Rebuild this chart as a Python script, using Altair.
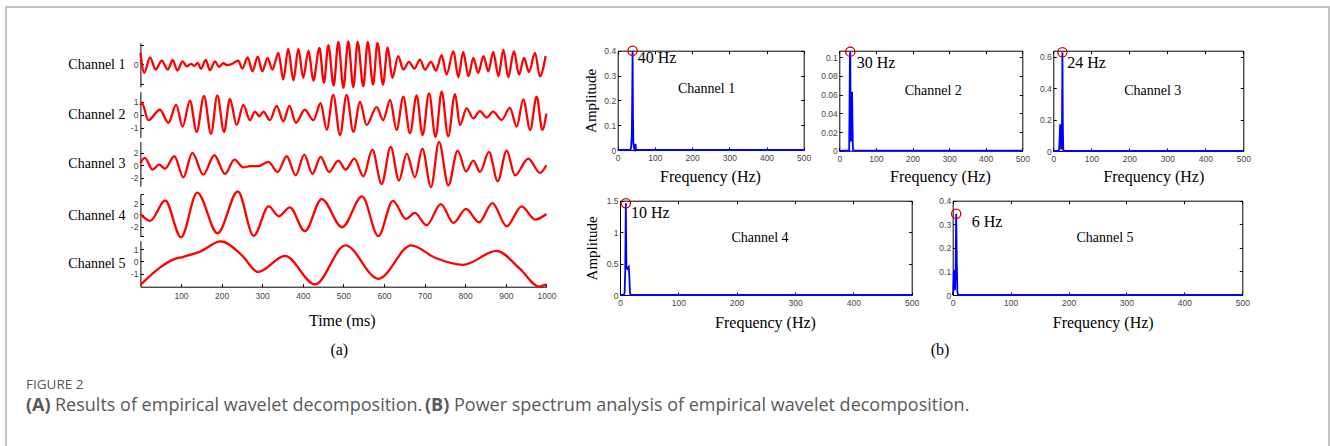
import altair as alt
import pandas as pd

W, H = 1330, 446
SERIF = "Liberation Serif"
SANS = "Liberation Sans"
CAPTION_FONT = "Open Sans"
RED = "#ff0000"
BLUE = "#0000ff"

# ---------------- (a) empirical wavelet modes: (time ms, amplitude) at the turning points
ch1 = [(0, 0.6), (9.7, -0.44), (23.6, 0.37), (37.6, -0.27), (52.4, 0.2), (67.2, -0.27), (79.5, 0.23),
       (91, -0.32), (104, 0.16), (114, -0.1), (124.6, 0.03), (132.8, -0.08), (141, 0.08), (149.3, -0.23),
       (160.8, 0.23), (171.4, -0.3), (183.7, 0.16), (193.6, -0.13), (204, 0.06), (214, -0.04), (225, 0.02),
       (241, 0.2), (251, -0.22), (264, 0.37), (276, -0.36), (289, 0.41), (300, -0.36), (313.5, 0.34),
       (325, -0.27), (340, 0.6), (352, -0.79), (364, 0.81), (377, -0.84), (389, 0.81), (401, -0.7),
       (414, 0.72), (426, -0.84), (441, 0.86), (452, -0.96), (463, 1.0), (476, -1.1), (487.5, 1.17),
       (500, -1.22), (512, 1.2), (524.5, -1.19), (535, 1.17), (549, -1.14), (560, 1.17), (573, -1.05),
       (584, 1.12), (597.5, -1.05), (609, 0.89), (620.5, -0.7), (635, 0.43), (647.6, -0.27), (661.6, 0.13),
       (674.7, -0.22), (688.7, 0.25), (701, -0.27), (715.7, 0.13), (728, -0.32), (742, 0.48), (754, -0.53),
       (771, 0.69), (783, -0.67), (795, 0.65), (808, -0.62), (820, 0.34), (832, -0.44), (845, 0.43),
       (857, -0.36), (869, 0.65), (882, -0.62), (894, 0.77), (906, -0.67), (920, 0.69), (932.5, -0.53),
       (945, 0.34), (957, -0.39), (972, 0.6), (984, -0.62), (998, 0.43)]
ch2 = [(0, 0.75), (4, 0.9), (19.5, -0.4), (48, 0.4), (69, -0.6), (88, 0.77), (104, -0.9), (122, 1.1),
       (138.5, -1.3), (156.6, 1.46), (174, -1.46), (189.4, 1.5), (206, -1.3), (220.6, 1.23), (237, -0.77),
       (253.5, 0.77), (270, -0.4), (282, 0.26), (293, -0.1), (303, 0.26), (319, -0.4), (335.6, 0.7),
       (352, -0.5), (367, 0.7), (383, -0.6), (405, 0.4), (426, -0.4), (444, 0.9), (459, -1.15), (475, 1.55),
       (491.6, -1.55), (508, 1.55), (524.4, -1.3), (541, 1.0), (557, -0.77), (582, 0.6), (598, -0.4),
       (615, 1.15), (631, -1.15), (647.6, 1.4), (664, -1.4), (680.4, 1.5), (695, -1.55), (711, 1.65),
       (727, -1.7), (742, 1.8), (758, -1.65), (775, 1.6), (787, -0.77), (803.5, 0.5), (820, -0.26),
       (836.4, 0.3), (853, -0.2), (869, 0.25), (890, -0.38), (910, 0.55), (927, -0.9), (943, 1.2),
       (960, -1.15), (976, 1.4), (990, -1.15), (1000, 0.1)]
ch3 = [(0, 0.37), (11.3, 1.17), (29.4, -0.7), (45.8, 0.1), (60.6, -0.53), (83.6, 1.44), (105.7, -1.92),
       (127.9, 1.97), (155, -1.5), (182.1, 1.6), (208.4, -1.39), (231.4, 0.9), (253.5, -0.32), (270, -0.15),
       (290.5, -0.15), (315.1, 0.53), (338.1, -1.07), (360.3, 1.44), (382.4, -1.6), (403.8, 1.7),
       (423.5, -1.39), (444, 1.33), (464.5, -1.07), (487.5, 0.75), (505.6, -0.7), (526.9, 1.07),
       (549.1, -1.76), (571.2, 2.5), (594.2, -3.0), (616.4, 2.93), (636.9, -2.45), (655.8, 1.87),
       (676.3, -1.92), (694.4, 2.67), (715.7, -3.5), (735.5, 3.73), (758.4, -3.2), (781.4, 2.35),
       (802, -0.96), (820, 0.75), (836.4, -1.07), (858.6, 2.13), (880, -2.56), (902.1, 2.35), (922.6, -1.6),
       (955.5, 1.07), (984.2, -1.23), (1000, 0)]
ch4 = [(0, 0.2), (24, -0.95), (61, 2.55), (100, -3.8), (140, 3.9), (190, -3.1), (240, 4.1), (279, -3.55),
       (316, 1.54), (341, -0.17), (368, 1.37), (405, -2.74), (446.5, 2.8), (497, -2.06), (546, 3.26),
       (586, -3.6), (622, 2.5), (654, -0.63), (676, 0.4), (705, -1.71), (740, 1.94), (771, -1.31),
       (802, 1.09), (834, -1.2), (867, 2.11), (902, -1.89), (939, 1.54), (972, -0.74), (1000, 0.23)]
ch5 = [(0, -1.9), (48, -0.5), (80, 0.15), (106, 0.38), (147, 0.8), (198, 1.62), (250, 0.5), (290, -0.85),
       (356, 0.45), (430, -1.85), (505, 1.3), (586, -1.4), (667, 1.3), (726, 0.3), (795, -0.27),
       (877, 0.85), (935, -0.6), (982, -2.03), (1000, -1.85)]
channels = [ch1, ch2, ch3, ch4, ch5]
channel_names = ["Channel 1", "Channel 2", "Channel 3", "Channel 4", "Channel 5"]
time_ticks = [100, 200, 300, 400, 500, 600, 700, 800, 900, 1000]
channel_ticks = [[-1, 0, 1], [-1, 0, 1], [-2, 0, 2], [-3.65, -2, 0, 2, 3.65], [-1, 0, 1]]
channel_tick_text = ["datum.value == 0 ? '0' : ''", None, None,
                     "abs(datum.value) > 3 ? '' : '' + datum.value", None]

# ---------------- (b) amplitude spectra: (frequency Hz, amplitude)
sp1 = [(0, 0), (34, 0), (36, 0.01), (38, 0.06), (39, 0.2), (40, 0.4), (41, 0.15), (42, 0.03), (44, 0.005),
       (46, 0), (47, 0.01), (48, 0.025), (49, 0.005), (51, 0), (500, 0)]
sp2 = [(0, 0), (27, 0), (29, 0.1), (30, 0.106), (31, 0.02), (32, 0.01), (33, 0.062), (35, 0.062),
       (36, 0.03), (37, 0.005), (38, 0), (500, 0)]
sp3 = [(0, 0), (15, 0), (16, 0.04), (17, 0.1), (18, 0.17), (19, 0.16), (20, 0.03), (21, 0.01), (22, 0.02),
       (23, 0.2), (24, 0.63), (25, 0.2), (26, 0.02), (27, 0), (500, 0)]
sp4 = [(0, 0), (7, 0), (8, 0.05), (9, 0.4), (10, 1.46), (11, 0.42), (12, 0.45), (13, 0.4), (14, 0.44),
       (15, 0.45), (16, 0.3), (17, 0.05), (18, 0), (500, 0)]
sp5 = [(0, 0), (1, 0.02), (2, 0.105), (3, 0.1), (4, 0.02), (5, 0.1), (6, 0.345), (7, 0.15), (8, 0.02),
       (9, 0), (500, 0)]
spectra = [sp1, sp2, sp3, sp4, sp5]
freq_ticks = [0, 100, 200, 300, 400, 500]
amp_ticks = [[0, 0.1, 0.2, 0.3, 0.4], [0, 0.02, 0.04, 0.06, 0.08, 0.1], [0, 0.2, 0.4, 0.6],
             [0, 0.5, 1, 1.5], [0, 0.1, 0.2, 0.3, 0.4]]
# where the peak note and the channel name sit inside each spectrum (Hz, amplitude)
note_pos = [(53.8, 0.37), (47.5, 0.094), (36.8, 0.563), (18.9, 1.31), (32.8, 0.311)]
name_pos = [(239, 0.246), (256.8, 0.0642), (261.6, 0.385), (240, 0.91), (262.9, 0.243)]

# ---------------- layout (pixels)
LEFT_X = (140.4, 546.4)
chan_box = [(86.7, 42.7, -1.16, 1.13), (137.3, 91.7, -1.72, 1.79), (186.3, 141.5, -3.36, 3.8),
            (236.3, 194.0, -3.62, 3.67), (286.7, 240.7, -2.04, 1.68)]
spec_box = [(617.7, 803.7, 150.0, 50.7, 0.4), (839.3, 1022.3, 150.7, 50.7, 0.107),
            (1053.3, 1243.3, 151.0, 50.7, 0.64), (620.0, 911.7, 295.0, 200.7, 1.5),
            (952.7, 1242.3, 295.0, 200.7, 0.4)]
freq_title_x = [710.0, 940.0, 1153.3, 765.0, 1102.7]
freq_title_y = [176.7, 176.7, 176.7, 322.7, 322.7]


def axis(orient, at, labels=True, ticks=False, domain=True, **kw):
    """Axis whose line sits at pixel `at` across the canvas."""
    off = {"bottom": at - H, "top": -at, "left": -at, "right": at - W}[orient]
    opts = dict(orient=orient, offset=off, grid=False, labels=labels, ticks=ticks, domain=domain,
                domainColor="#000000", domainWidth=1, tickColor="#000000", tickSize=3, tickWidth=1,
                labelFont=SANS, labelFontSize=8.5, labelColor="#444444", labelPadding=3,
                labelFlush=False, labelOverlap=False, labelExpr="'' + datum.value", title=None,
                titleFont=SERIF, titleFontWeight="normal", titleColor="#000000", titleFontSize=16)
    opts.update(kw)
    return alt.Axis(**opts)


def lin_scale(dom, rng):
    return alt.Scale(domain=list(dom), range=list(rng), nice=False, zero=False)


layers = []

# frame around the figure
frame = pd.DataFrame({"k": [0]})
layers.append(alt.Chart(frame).mark_rect(fillOpacity=0, stroke="#c4c4c4", strokeWidth=2).encode(
    x=alt.value(6), x2=alt.value(1329), y=alt.value(7), y2=alt.value(480)))

# ---- (a) decomposition traces
for i, pts in enumerate(channels):
    df = pd.DataFrame(pts, columns=["t", "v"])
    yb, yt, vb, vt = chan_box[i]
    xs = lin_scale([0, 1000], LEFT_X)
    ys = lin_scale([vb, vt], [yb, yt])
    last = i == len(channels) - 1
    lab_kw = dict(values=channel_ticks[i], labelPadding=2.5, title=channel_names[i], titleAngle=0,
                  titleAlign="right", titleBaseline="middle", titleX=125 - LEFT_X[0],
                  titleY=(yb + yt) / 2, titleFontSize=14)
    if channel_tick_text[i]:
        lab_kw["labelExpr"] = channel_tick_text[i]
    x_lab = axis("bottom", yb, values=time_ticks, labelPadding=5, title="Time (ms)",
                 titleX=341.7, titleY=34, titleBaseline="middle") if last else None
    layers.append(alt.Chart(df).mark_line(color=RED, strokeWidth=2.3, interpolate="monotone").encode(
        x=alt.X("t:Q", scale=xs, axis=x_lab),
        y=alt.Y("v:Q", scale=ys, axis=axis("left", LEFT_X[0], **lab_kw))))
    x_tk = axis("top", yb, labels=False, ticks=True, domain=False, values=time_ticks) if last else None
    layers.append(alt.Chart(df).mark_line(opacity=0).encode(
        x=alt.X("t:Q", scale=xs, axis=x_tk),
        y=alt.Y("v:Q", scale=ys, axis=axis("right", LEFT_X[0], labels=False, ticks=True, domain=False,
                                            values=channel_ticks[i]))))

# ---- (b) spectra
for i, pts in enumerate(spectra):
    df = pd.DataFrame(pts, columns=["f", "a"])
    xl, xr, yb, yt, top = spec_box[i]
    xs = lin_scale([0, 500], [xl, xr])
    ys = lin_scale([0, top], [yb, yt])
    y_kw = dict(values=amp_ticks[i], labelPadding=2)
    if i in (0, 3):
        y_kw.update(title="Amplitude", titleAngle=270, titleAlign="center", titleBaseline="middle",
                    titleX=(590 if i == 0 else 591.7) - xl, titleY=(yb + yt) / 2, titleFontSize=15)
    layers.append(alt.Chart(df).mark_line(color=BLUE, strokeWidth=1.8).encode(
        x=alt.X("f:Q", scale=xs, axis=axis("bottom", yb, values=freq_ticks, labelPadding=3.5,
                                            title="Frequency (Hz)", titleX=freq_title_x[i],
                                            titleY=freq_title_y[i] - yb, titleBaseline="middle")),
        y=alt.Y("a:Q", scale=ys, axis=axis("left", xl, **y_kw))))
    layers.append(alt.Chart(df).mark_line(opacity=0).encode(
        x=alt.X("f:Q", scale=xs, axis=axis("top", yb, labels=False, ticks=True, domain=False,
                                            values=freq_ticks)),
        y=alt.Y("a:Q", scale=ys, axis=axis("right", xl, labels=False, ticks=True, domain=False,
                                            values=amp_ticks[i]))))
    layers.append(alt.Chart(df).mark_line(opacity=0).encode(
        x=alt.X("f:Q", scale=xs, axis=axis("bottom", yt, labels=False, ticks=True, values=freq_ticks)),
        y=alt.Y("a:Q", scale=ys, axis=axis("left", xr, labels=False, ticks=True, values=amp_ticks[i]))))

    peak = max(pts, key=lambda p: p[1])
    pk = pd.DataFrame({"f": [peak[0]], "a": [peak[1]]})
    layers.append(alt.Chart(pk).mark_point(shape="circle", size=85, filled=False, color="#d40000",
                                           strokeWidth=1.3, opacity=1).encode(
        x=alt.X("f:Q", scale=xs, axis=None), y=alt.Y("a:Q", scale=ys, axis=None)))
    note = pd.DataFrame({"f": [note_pos[i][0]], "a": [note_pos[i][1]], "s": [f"{peak[0]:g} Hz"]})
    layers.append(alt.Chart(note).mark_text(font=SERIF, fontSize=16, align="left", baseline="middle",
                                            color="#000000").encode(
        x=alt.X("f:Q", scale=xs, axis=None), y=alt.Y("a:Q", scale=ys, axis=None), text="s:N"))
    nm = pd.DataFrame({"f": [name_pos[i][0]], "a": [name_pos[i][1]], "s": [channel_names[i]]})
    layers.append(alt.Chart(nm).mark_text(font=SERIF, fontSize=14, align="center", baseline="middle",
                                          color="#000000").encode(
        x=alt.X("f:Q", scale=xs, axis=None), y=alt.Y("a:Q", scale=ys, axis=None), text="s:N"))

# ---- sub-figure letters and caption
one = pd.DataFrame({"k": [0]})
for txt, x in (("(a)", 339.3), ("(b)", 940.0)):
    layers.append(alt.Chart(one).mark_text(text=txt, font=SERIF, fontSize=16, align="center",
                                           baseline="middle", color="#000000").encode(
        x=alt.value(x), y=alt.value(350)))
layers.append(alt.Chart(one).mark_text(text="FIGURE 2", font=CAPTION_FONT, fontSize=13.5, align="left",
                                       baseline="middle", color="#555555").encode(
    x=alt.value(26), y=alt.value(385)))
caption_parts = [("(A)", "bold", 26), ("Results of empirical wavelet decomposition.", "normal", 55),
                 ("(B)", "bold", 425), ("Power spectrum analysis of empirical wavelet decomposition.", "normal", 454)]
for txt, wt, x in caption_parts:
    layers.append(alt.Chart(one).mark_text(text=txt, font=CAPTION_FONT, fontSize=18, fontWeight=wt,
                                           align="left", baseline="middle", color="#595959").encode(
        x=alt.value(x), y=alt.value(406)))

chart = alt.layer(*layers).resolve_scale(x="independent", y="independent").properties(
    width=W, height=H, padding=0, autosize=alt.AutoSizeParams(type="none"), background="white"
).configure_view(stroke=None)

chart.save("out.html", embed_options={"renderer": "svg", "actions": False})
